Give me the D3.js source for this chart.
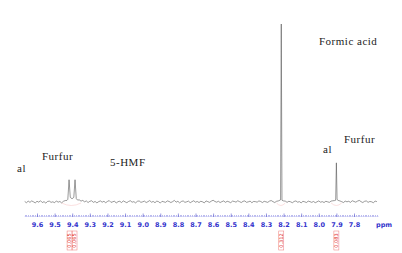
<!DOCTYPE html>
<html>
<head>
<meta charset="utf-8">
<script src="https://cdn.jsdelivr.net/npm/d3@7"></script>
<style>
  body { margin: 0; background: #fff; }
  svg { display: block; }
</style>
</head>
<body>
<script>
// baseline noise, one value every 0.01 ppm starting at 9.67
var noiseStart = 9.67, noiseStep = 0.01;
var noise = [0.3,-0.4,0.5,-0.2,0.6,0.1,-0.5,0.4,-0.1,0.7,-0.3,0.2,-0.6,0.3,0.5,-0.2,0.1,-0.4,0.6,-0.1,0.3,-0.5,0.4,0.8,
  0.9,0.6,0.8,0.5,0.9,0.7,1.1,
  1.2,0.5,0.9,0.1,0.6,-0.3,0.4,0.7,-0.2,0.3,
  -0.5,0.2,0.6,-0.1,0.4,-0.4,0.3,0.8,-0.2,0.1,
  0.5,-0.6,0.2,0.4,-0.3,0.6,0.1,-0.4,0.3,0.7,
  -0.1,0.2,-0.5,0.4,0.6,-0.2,0.1,0.5,-0.3,0.2,
  0.8,-0.1,0.3,-0.4,0.5,0.2,-0.6,0.4,0.1,-0.2,
  0.6,0.3,-0.3,0.2,0.9,-0.1,0.4,-0.5,0.3,0.6,
  -0.2,0.1,0.5,-0.4,0.2,0.7,-0.1,0.3,-0.3,0.4,
  0.1,-0.5,0.6,0.2,-0.2,0.5,1.0,0.3,-0.1,0.4,
  -0.3,0.2,0.6,-0.2,0.4,0.1,-0.4,0.5,0.3,-0.1,
  0.7,0.2,-0.3,0.4,0.6,-0.2,0.1,0.5,-0.4,0.3,
  0.2,-0.1,0.6,0.3,-0.3,0.4,0.1,-0.2,0.5,0.8,
  0.2,-0.3,0.4,0.6,0.5,0.4,0.6,
  0.5,-0.2,0.4,0.1,-0.4,0.3,0.6,-0.1,0.2,-0.5,0.4,0.1,-0.3,0.5,0.2,-0.2,0.3,-0.4,0.1,0.6,-0.1,0.2,-0.3,0.4,0.1,-0.2,0.5,0.7,
  0.8,0.9,0.9,
  0.6,0.2,-0.3,0.5,0.1,0.4,-0.2,0.7,0.3,-0.1,0.5,0.9,0.2,-0.3,0.4,0.6,-0.2,0.3,0.1,-0.4,0.5,0.2];

// peak points [ppm, intensity] (formic acid = 100)
var peakPoints = [
  [9.425,1.5],[9.418,12.5],[9.411,2.6],[9.401,1.8],[9.391,2.6],[9.384,12.5],[9.377,1.9],
  [8.217,1.2],[8.213,100],[8.209,1.0],
  [7.904,1.0],[7.900,22],[7.896,1.4]
];

var tickValues = [9.6,9.5,9.4,9.3,9.2,9.1,9.0,8.9,8.8,8.7,8.6,8.5,8.4,8.3,8.2,8.1,8.0,7.9,7.8];

// integrals: ppm centre of label, label text, range of the little curve
var integralPos = [9.415, 9.387, 8.213, 7.900];
var integralText = ["0.065", "0.065", "0.312", "0.083"];
var integralFrom = [9.46, null, 8.24, 7.93];
var integralTo = [9.35, null, 8.19, 7.87];

// annotations
var labelText = ["al", "Furfur", "5-HMF", "Formic acid", "al", "Furfur"];
var labelX = [17, 42, 110, 319, 323, 344];
var labelY = [172, 160, 166, 45, 153, 143];

var w = 402, h = 253;

var svg = d3.select("body").append("svg")
  .attr("width", w)
  .attr("height", h);

var x = d3.scaleLinear().domain([9.6, 7.8]).range([37, 354]);
var y = d3.scaleLinear().domain([0, 100]).range([202, 24]);

// build spectrum: noise samples outside peak regions + peak points
var pts = noise.map(function(v, i){ return [noiseStart - i * noiseStep, v]; });
var regions = [[9.425, 9.377], [8.217, 8.209], [7.904, 7.896]];
pts = pts.filter(function(p){
  return !regions.some(function(r){ return p[0] <= r[0] + 0.004 && p[0] >= r[1] - 0.004; });
});
pts = pts.concat(peakPoints).sort(function(a, b){ return b[0] - a[0]; });

var line = d3.line()
  .x(function(d){ return x(d[0]); })
  .y(function(d){ return y(d[1]); });

svg.append("path")
  .datum(pts)
  .attr("d", line)
  .attr("fill", "none")
  .attr("stroke", "#555")
  .attr("stroke-width", 0.6);

// little red integral curves
integralFrom.forEach(function(f, i){
  if (f === null) return;
  var x0 = x(f), x1 = x(integralTo[i]);
  svg.append("path")
    .attr("d", "M" + x0 + ",203 Q" + ((x0 + x1) / 2) + ",208 " + x1 + ",203")
    .attr("fill", "none")
    .attr("stroke", "#f6c0c0")
    .attr("stroke-width", 0.5);
});

// axis
var minor = d3.range(967, 766, -1).map(function(d){ return d / 100; });
svg.append("line")
  .attr("x1", x(9.67)).attr("x2", x(7.66))
  .attr("y1", 216.5).attr("y2", 216.5)
  .attr("stroke", "#aaaaee")
  .attr("stroke-width", 0.4);

svg.selectAll(".minor")
  .data(minor)
  .enter()
  .append("line")
  .attr("class", "minor")
  .attr("x1", function(d){ return Math.round(x(d)) + 0.5; })
  .attr("x2", function(d){ return Math.round(x(d)) + 0.5; })
  .attr("y1", 215)
  .attr("y2", 216.5)
  .attr("stroke", "#7777dd")
  .attr("stroke-width", 0.5);

var axis = d3.axisBottom(x)
  .tickValues(tickValues)
  .tickSize(-3.5)
  .tickPadding(5)
  .tickFormat(d3.format(".1f"));

var gx = svg.append("g")
  .attr("transform", "translate(0,217)")
  .call(axis);
gx.select(".domain").remove();
gx.selectAll(".tick line").attr("stroke", "#5555cc").attr("stroke-width", 0.6);
gx.selectAll(".tick text")
  .attr("fill", "#3333cc")
  .style("font-family", "'DejaVu Sans', sans-serif")
  .style("font-size", "6.5px")
  .style("font-weight", "bold");

svg.append("text")
  .attr("x", 376).attr("y", 226.5)
  .attr("fill", "#3333cc")
  .style("font-family", "'DejaVu Sans', sans-serif")
  .style("font-size", "6.5px")
  .style("font-weight", "bold")
  .text("ppm");

// integral value boxes
var ig = svg.selectAll(".integral")
  .data(integralPos)
  .enter()
  .append("g")
  .attr("class", "integral")
  .attr("transform", function(d){ return "translate(" + x(d) + ",240.5)"; });

ig.append("rect")
  .attr("x", -2.5).attr("y", -9.5)
  .attr("width", 5).attr("height", 19)
  .attr("fill", "none")
  .attr("stroke", "#ee7777")
  .attr("stroke-width", 0.5);

ig.append("text")
  .attr("transform", "rotate(-90)")
  .attr("text-anchor", "middle")
  .attr("dy", "0.35em")
  .attr("fill", "#dd2222")
  .style("font-family", "'DejaVu Sans', sans-serif")
  .style("font-size", "5px")
  .text(function(d, i){ return integralText[i]; });

// compound labels
svg.selectAll(".lbl")
  .data(labelText)
  .enter()
  .append("text")
  .attr("class", "lbl")
  .attr("x", function(d, i){ return labelX[i]; })
  .attr("y", function(d, i){ return labelY[i]; })
  .attr("fill", "#222")
  .style("font-family", "'Liberation Serif', serif")
  .style("font-size", "11px")
  .style("letter-spacing", "0.5px")
  .text(function(d){ return d; });
</script>
</body>
</html>
